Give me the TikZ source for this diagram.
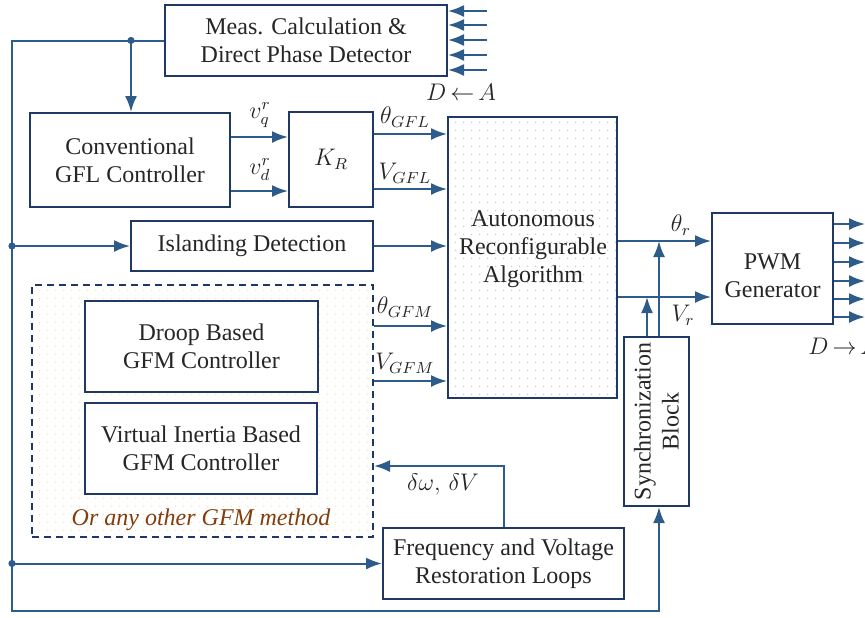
\documentclass[tikz,border=0pt]{standalone}
\usepackage{amsmath}
\usepackage{fontspec}
\setmainfont{Liberation Serif}
\usepackage{tikz}
\usetikzlibrary{arrows.meta,patterns.meta}

\definecolor{boxblue}{HTML}{1F3864}
\definecolor{wireblue}{HTML}{2E5C8A}
\definecolor{txtgray}{HTML}{262626}
\definecolor{gfmbrown}{HTML}{843C0C}
\definecolor{dotblue}{HTML}{C2CCDA}
\definecolor{dotyellow}{HTML}{F8E7AE}

\begin{document}
\begin{tikzpicture}[
				x=0.5pt, y=-0.5pt,
				block style/.style={
					draw=boxblue,
					line width=1pt,
					fill=white,
					align=center,
					inner sep=0pt,
					text=txtgray,
					font=\fontsize{12}{14}\selectfont
				},
				wire style/.style={
					draw=wireblue,
					line width=1pt
				},
				sig style/.style={
					text=txtgray,
					inner sep=1pt,
					font=\fontsize{12}{14}\selectfont
				},
				>={Latex[length=8pt,width=6pt]}
				]
				
				\useasboundingbox (0,0) rectangle (865,617);
				
				% blocks
				\node[block style, minimum width=141pt, minimum height=35.5pt] (meas) at (306,40.5)
				{Meas. Calculation \&\\Direct Phase Detector};
				
				\node[block style, minimum width=100pt, minimum height=47pt] (conv) at (130,160)
				{Conventional\\GFL Controller};
				
				\node[block style, minimum width=42pt, minimum height=47.5pt] (kr) at (331,159.5)
				{$K_R$};
				
				\node[block style, minimum width=121pt, minimum height=25pt] (isl) at (252,246)
				{Islanding Detection};
				
				\node[block style, minimum width=84.5pt, minimum height=140.5pt,
				pattern={Dots[distance=4pt,radius=0.45pt]}, pattern color=dotblue] (auto) at (532.5,257.5) {};
				\node[sig style, align=center] (autotxt) at (533,249)
				{Autonomous\\Reconfigurable\\Algorithm};
				
				\node[draw=boxblue, line width=1pt, dash pattern=on 3.5pt off 2.5pt,
				minimum width=170.5pt, minimum height=126pt,
				pattern={Dots[distance=4pt,radius=0.45pt]}, pattern color=dotyellow] (gfm) at (202.5,411) {};
				
				\node[block style, minimum width=116.5pt, minimum height=45.5pt] (droop) at (201.5,346.5)
				{Droop Based\\GFM Controller};
				
				\node[block style, minimum width=116pt, minimum height=45.5pt] (vi) at (201,448.5)
				{Virtual Inertia Based\\GFM Controller};
				
				\node[sig style, text=gfmbrown, font=\fontsize{12}{14}\selectfont\itshape] (other) at (201,520)
				{Or any other GFM method};
				
				\node[block style, minimum width=120.5pt, minimum height=35.5pt] (freq) at (503.5,563.5)
				{Frequency and Voltage\\Restoration Loops};
				
				\node[block style, rotate=90, minimum width=84.5pt, minimum height=32.5pt] (sync) at (656.5,421.5)
				{Synchronization\\Block};
				
				\node[block style, minimum width=60.5pt, minimum height=55.5pt] (pwm) at (772.5,268.5) {};
				\node[sig style, align=center] (pwmtxt) at (772.5,276)
				{PWM\\Generator};
				
				% signal labels
				\node[sig style] (vq) at (260,115) {$v_q^r$};
				\node[sig style] (vd) at (260,170) {$v_d^r$};
				\node[sig style] (thgfl) at (405,117) {$\theta_{GFL}$};
				\node[sig style] (vgfl) at (405,173) {$V_{GFL}$};
				\node[sig style] (thgfm) at (405,307) {$\theta_{GFM}$};
				\node[sig style] (vgfm) at (405,363) {$V_{GFM}$};
				\node[sig style] (thr) at (681,225) {$\theta_r$};
				\node[sig style] (vr) at (683,315) {$V_r$};
				\node[sig style] (dw) at (443,484) {$\delta\omega,\,\delta V$};
				\node[sig style] (adin) at (461,92) {$D\,{\leftarrow}\,A$};
				\node[sig style, anchor=west] (daout) at (806,346) {$D\,{\rightarrow}\,A$};
				
				% junctions
				\coordinate (busT) at (12,40.5);
				\coordinate (busB) at (12,611);
				\coordinate (j1) at (131,40.5);
				\coordinate (j2) at (12,246);
				\coordinate (j3) at (12,563.5);
				\coordinate (thj) at (659,241);
				\coordinate (vj) at (647,297);
				
				% connectors
				\draw[wire style, ->] (meas.west) -- (busT) -- (busB) -| (thj |- sync.west);
				\draw[wire style, ->] (j1) -- (j1 |- conv.north);
				\draw[wire style, ->] (j2) -- (isl.west);
				\draw[wire style, ->] (j3) -- (freq.west);
				\foreach \j in {j1,j2,j3}
				\fill[wireblue] (\j) circle (1.8pt);
				
				\draw[wire style, ->] (conv.east |- 0,137) -- (kr.west |- 0,137);
				\draw[wire style, ->] (conv.east |- 0,191) -- (kr.west |- 0,191);
				\draw[wire style, ->] (kr.east |- 0,134) -- (auto.west |- 0,134);
				\draw[wire style, ->] (kr.east |- 0,189) -- (auto.west |- 0,189);
				\draw[wire style, ->] (isl.east) -- (auto.west |- isl.east);
				\draw[wire style, ->] (gfm.east |- 0,326) -- (auto.west |- 0,326);
				\draw[wire style, ->] (gfm.east |- 0,381) -- (auto.west |- 0,381);
				\draw[wire style, ->] (freq.north) |- (gfm.east |- 0,466);
				
				\draw[wire style, ->] (auto.east |- thj) -- (pwm.west |- thj);
				\draw[wire style, ->] (auto.east |- vj) -- (pwm.west |- vj);
				\draw[wire style, ->] (thj |- sync.east) -- (thj);
				\draw[wire style, ->] (vj |- sync.east) -- (vj);
				
				\foreach \yy [count=\i] in {11,25,40,55,70} {
					\coordinate (min\i) at (487,\yy);
					\draw[wire style, ->] (min\i) -- (meas.east |- min\i);
				}
				\foreach \yy [count=\i] in {224,243,262,281,299,317} {
					\coordinate (pout\i) at (865,\yy);
					\draw[wire style, ->] (pwm.east |- pout\i) -- (pout\i);
				}
				
			\end{tikzpicture}
\end{document}
